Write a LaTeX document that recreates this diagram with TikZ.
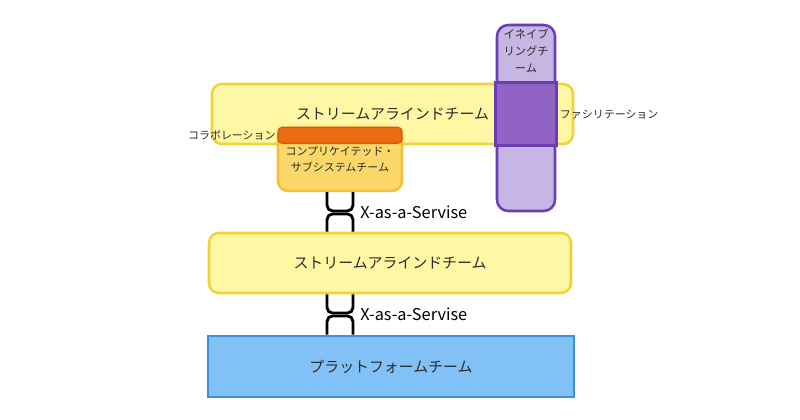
\documentclass[tikz,border=0pt]{standalone}
\usepackage{fontspec}
\setmainfont{Noto Sans CJK JP}
\usetikzlibrary{positioning,calc}
\definecolor{Lemon}{HTML}{FFF7A3}
\definecolor{LemonEdge}{HTML}{F0D23C}
\definecolor{Mustard}{HTML}{FCD76A}
\definecolor{MustardEdge}{HTML}{F2BE3B}
\definecolor{Ember}{HTML}{EC6B15}
\definecolor{EmberEdge}{HTML}{D9590F}
\definecolor{Lilac}{HTML}{C7B5E3}
\definecolor{Violet}{HTML}{6B3CB2}
\definecolor{Plum}{HTML}{9163C4}
\definecolor{Sky}{HTML}{82C1F5}
\definecolor{SkyEdge}{HTML}{3F90DB}
\definecolor{Txt}{HTML}{2B2B2B}
\tikzset{
 team/.style={draw,line width=1.8pt,rounded corners=7pt,align=center,text=Txt,inner sep=0pt},
 stream/.style={team,draw=LemonEdge,fill=Lemon,minimum height=1.5cm,font=\fontsize{10.6}{13}\selectfont},
 subteam/.style={team,draw=MustardEdge,fill=Mustard,font=\fontsize{7.8}{11}\selectfont},
 collab/.style={draw=EmberEdge,fill=Ember,line width=1pt,rounded corners=3pt,inner sep=0pt},
 enabler/.style={team,draw=Violet,fill=Lilac,rounded corners=8pt},
 overlap/.style={draw=Violet,fill=Plum,line width=1.8pt},
 platform/.style={team,draw=SkyEdge,fill=Sky,rounded corners=0pt,font=\fontsize{10.6}{13}\selectfont},
 small/.style={font=\fontsize{7.8}{11}\selectfont,text=Txt,inner sep=1pt},
 xaas/.style={font=\fontsize{11.6}{13}\selectfont,text=black,inner sep=0pt},
 link/.style={draw=black,line width=2pt,rounded corners=4pt}
}
\begin{document}
\begin{tikzpicture}[x=1cm,y=1cm]
\useasboundingbox[fill=white] (0,0) rectangle (20,10.475);
% Upper stream team with its complicated subsystem team.
\node[stream,minimum width=9.025cm] (stream1) at (9.8125,7.625) {ストリームアラインドチーム};
\node[subteam,minimum width=3.1cm,minimum height=1.575cm] (subsys) at (8.5,6.49) {コンプリケイテッド・\\サブシステムチーム};
\node[collab,anchor=north,minimum width=3.1cm,minimum height=0.4cm] (bar) at (subsys.north) {};
\node[small,anchor=east] (collabtxt) at (bar.west) {コラボレーション};
% Enabling team across the upper stream team.
\node[enabler,minimum width=1.45cm,minimum height=4.65cm] (enabling) at (13.15,7.525) {};
\draw[overlap] (enabling.west |- stream1.north) rectangle (enabling.east |- stream1.south);
\node[small,anchor=north,align=center,font=\fontsize{8}{12.2}\selectfont] (enablingtxt) at ([yshift=-0.09cm]enabling.north) {イネイブ\\リングチ\\ーム};
\node[small,anchor=west] (facil) at ([xshift=0.05cm]enabling.east |- 0,7.6) {ファシリテーション};
% Lower teams.
\node[stream,minimum width=9.05cm] (stream2) at (9.75,3.9) {ストリームアラインドチーム};
\node[platform,minimum width=9.15cm,minimum height=1.525cm] (plat) at (9.775,1.3125) {プラットフォームチーム};
% X-as-a-Service links, all on the axis of the subsystem team.
\coordinate (top1) at (subsys.south);
\coordinate (bot1) at (subsys.south |- stream2.north);
\coordinate (top2) at (subsys.south |- stream2.south);
\coordinate (bot2) at (subsys.south |- plat.north);
\path (top1) -- (bot1) coordinate[pos=.475] (xa) coordinate[pos=.55] (xb);
\draw[link] ([xshift=-0.325cm]top1) |- (xa) -| ([xshift=0.325cm]top1);
\draw[link] ([xshift=-0.325cm]bot1) |- (xb) -| ([xshift=0.325cm]bot1);
\node[xaas,anchor=west] (xaas1) at ($(xa)!.5!(xb)+(0.5,0)$) {X-as-a-Servise};
\path (top2) -- (bot2) coordinate[pos=.465] (ya) coordinate[pos=.535] (yb);
\draw[link] ([xshift=-0.325cm]top2) |- (ya) -| ([xshift=0.325cm]top2);
\draw[link] ([xshift=-0.325cm]bot2) |- (yb) -| ([xshift=0.325cm]bot2);
\node[xaas,anchor=west] (xaas2) at ($(ya)!.5!(yb)+(0.5,0)$) {X-as-a-Servise};
\end{tikzpicture}
\end{document}
